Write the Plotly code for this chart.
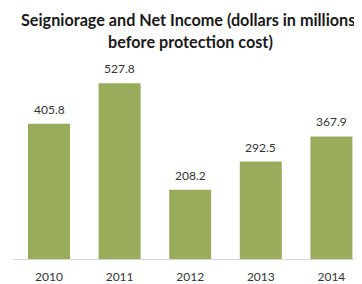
import plotly.graph_objects as go

years = ["2010", "2011", "2012", "2013", "2014"]
values = [405.8, 527.8, 208.2, 292.5, 367.9]
labels = ["405.8", "527.8", "208.2", "292.5", "367.9"]
title_lines = ["Seigniorage and Net Income (dollars in millions,", "before protection cost)"]

W, H = 362, 284
L, R, T, B = 5, 0, 60, 33
PW, PH = W - L - R, H - T - B


def px(x):
    return (x - L) / PW


def py(y):
    return (H - B - y) / PH


fig = go.Figure(go.Bar(
    x=years, y=values,
    marker=dict(color="#99AC5C", line=dict(width=0)),
    hoverinfo="x+y",
))

for i, (v, lab) in enumerate(zip(values, labels)):
    fig.add_annotation(
        x=i, y=v, text=lab, showarrow=False,
        xanchor="center", yanchor="bottom", yshift=5,
        font=dict(family="Lato", size=12, color="#333333"),
    )

for line, ypx in zip(title_lines, [11, 33]):
    fig.add_annotation(
        text="<b>" + line + "</b>", xref="paper", yref="paper",
        x=px(182), y=py(ypx),
        xanchor="center", yanchor="middle", showarrow=False,
        font=dict(family="Lato", size=16.2, color="#1a1a1a"),
    )

fig.update_layout(
    width=W, height=H,
    margin=dict(l=L, r=R, t=T, b=B),
    paper_bgcolor="white", plot_bgcolor="white",
    bargap=0.405,
    showlegend=False,
    xaxis=dict(
        type="category",
        range=[-0.51, -0.51 + PW / 70.6], showgrid=False, zeroline=False,
        showline=True, linecolor="#d6d6d6", linewidth=1,
        ticks="outside", ticklen=7, tickcolor="rgba(0,0,0,0)",
        tickfont=dict(family="Lato", size=12, color="#333333"),
    ),
    yaxis=dict(range=[0, PH / 0.333], visible=False),
)

fig.write_html("out.html")
